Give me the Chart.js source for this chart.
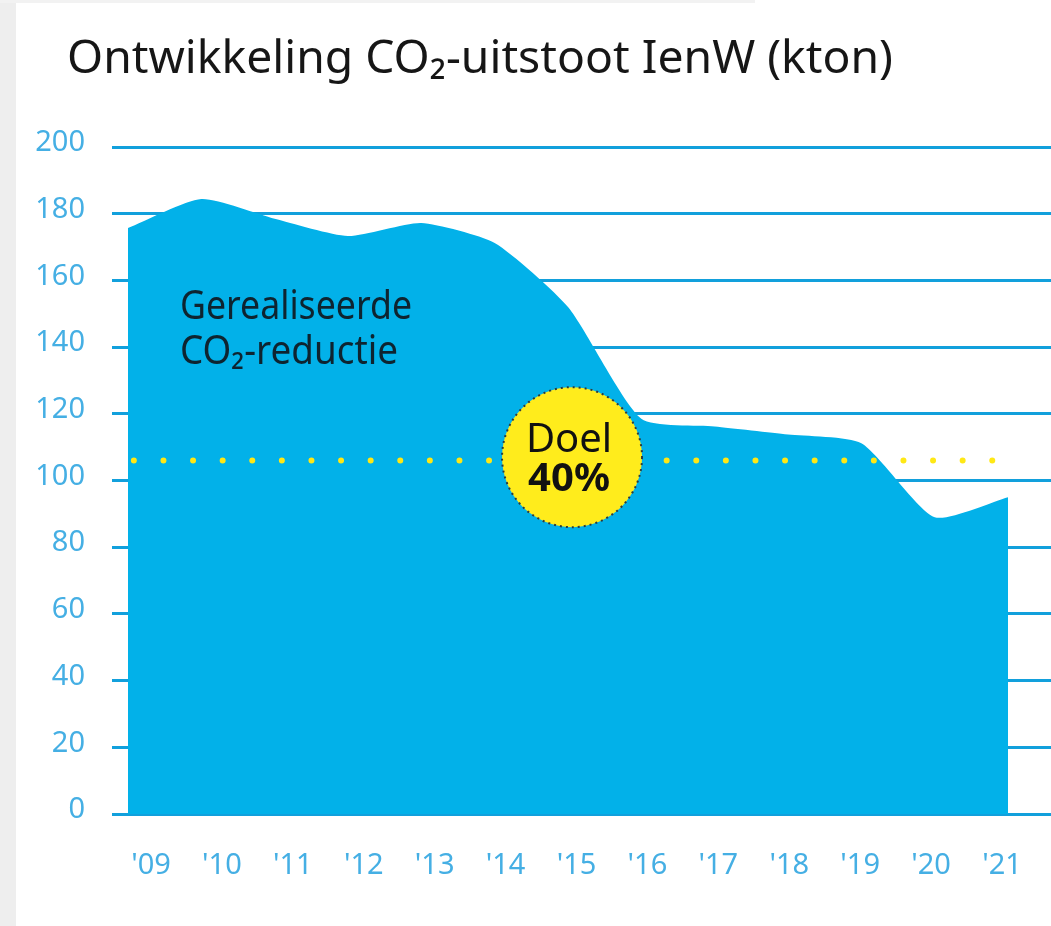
<!DOCTYPE html>
<html lang="nl">
<head>
<meta charset="utf-8">
<title>Ontwikkeling CO₂-uitstoot IenW (kton)</title>
<script src="https://cdn.jsdelivr.net/npm/chart.js@4.4.1/dist/chart.umd.min.js"></script>
<style>
  html, body { margin: 0; padding: 0; }
  body {
    width: 1051px; height: 926px; overflow: hidden; position: relative;
    background: linear-gradient(to right, #eeeeee 16px, #ffffff 16px);
  }
  body::before {
    content: ''; position: absolute; left: 0; top: 0; width: 755px; height: 3px; background: #f2f2f2;
  }
  canvas { display: block; position: relative; }
</style>
</head>
<body>
<canvas id="co2Chart" width="1051" height="926"></canvas>
<script>
// CO2-uitstoot IenW per jaar (kton)
const years      = [2009, 2010, 2011, 2012, 2013, 2014, 2015, 2016, 2017, 2018, 2019, 2020, 2021];
const tickLabels = ["'09", "'10", "'11", "'12", "'13", "'14", "'15", "'16", "'17", "'18", "'19", "'20", "'21"];
const uitstoot   = [175.7, 184.4, 178.5, 173.3, 177.2, 171.2, 152, 118.5, 116.2, 113.8, 111.2, 89, 95];
const yTicks     = [0, 20, 40, 60, 80, 100, 120, 140, 160, 180, 200];

// doel: 40% reductie
const doelWaarde = 106;
const doelVan    = 2009.08;
const doelTot    = 2021.01;
const doelBol    = { jaar: 2015.055, waarde: 107 };

const BLUE  = '#02b1e9';
const GRID  = '#12a0dc';
const TICK  = '#45afe4';
const FONT  = '"Noto Sans", "Open Sans", sans-serif';

// draw text squeezed to a given width (the original uses a narrow font)
function fitText(ctx, text, x, y, width) {
  const w = ctx.measureText(text).width;
  ctx.save();
  ctx.translate(x, y);
  ctx.scale(width / w, 1);
  ctx.fillText(text, 0, 0);
  ctx.restore();
}

const annotaties = {
  id: 'annotaties',
  afterDatasetsDraw(chart) {
    const { ctx, scales: { x, y } } = chart;
    ctx.save();

    // label in the area
    ctx.fillStyle = '#0e2430';
    ctx.textBaseline = 'alphabetic';
    ctx.textAlign = 'left';
    ctx.font = '40px ' + FONT;
    fitText(ctx, 'Gerealiseerde', 180, 319, 232);
    fitText(ctx, 'CO₂-reductie', 180, 364, 218);

    // yellow "Doel 40%" bubble
    const cx = x.getPixelForValue(doelBol.jaar);
    const cy = y.getPixelForValue(doelBol.waarde);
    ctx.beginPath();
    ctx.arc(cx, cy, 70, 0, Math.PI * 2);
    ctx.fillStyle = '#ffec1c';
    ctx.fill();
    ctx.setLineDash([2, 4]);
    ctx.lineWidth = 2;
    ctx.strokeStyle = '#2d3b3e';
    ctx.stroke();
    ctx.setLineDash([]);

    ctx.fillStyle = '#111111';
    ctx.textAlign = 'center';
    ctx.textBaseline = 'middle';
    ctx.font = '40px ' + FONT;
    ctx.fillText('Doel', cx - 3, cy - 17);
    ctx.font = 'bold 40px ' + FONT;
    ctx.fillText('40%', cx - 3, cy + 22);
    ctx.restore();
  },
  afterDraw(chart) {
    const { ctx } = chart;
    ctx.save();
    ctx.fillStyle = '#161616';
    ctx.textAlign = 'left';
    ctx.textBaseline = 'alphabetic';
    ctx.font = '46px ' + FONT;
    fitText(ctx, 'Ontwikkeling CO₂-uitstoot IenW (kton)', 67, 73, 826);
    ctx.restore();
  }
};

new Chart(document.getElementById('co2Chart'), {
  type: 'line',
  data: {
    datasets: [
      {
        label: 'Doel',
        data: [{ x: doelVan, y: doelWaarde }, { x: doelTot, y: doelWaarde }],
        borderColor: '#ffe815',
        borderWidth: 6,
        borderDash: [0, 29.6],
        borderCapStyle: 'round',
        pointRadius: 0,
        fill: false,
        order: 0
      },
      {
        label: 'CO₂-uitstoot',
        data: years.map((j, i) => ({ x: j, y: uitstoot[i] })),
        backgroundColor: BLUE,
        borderWidth: 0,
        pointRadius: 0,
        fill: 'origin',
        tension: 0.2,
        order: 1
      }
    ]
  },
  options: {
    responsive: false,
    animation: false,
    layout: { padding: { top: 147, left: 0, right: 0, bottom: 0 } },
    plugins: { legend: { display: false }, tooltip: { enabled: false } },
    scales: {
      x: {
        type: 'linear', display: false,
        min: 2008.782, max: 2021.586
      },
      xt: {
        type: 'linear', position: 'bottom',
        min: 2008.45, max: 2021.691,
        afterBuildTicks: axis => { axis.ticks = years.map(v => ({ value: v })); },
        afterFit: axis => { axis.height = 112; },
        grid: { display: false },
        border: { display: false },
        ticks: {
          color: TICK, padding: 26, maxRotation: 0, autoSkip: false,
          font: { family: FONT, size: 29 },
          callback: (v, i) => tickLabels[i]
        }
      },
      y: {
        min: 0, max: 200,
        afterBuildTicks: axis => { axis.ticks = yTicks.map(v => ({ value: v })); },
        afterFit: axis => { axis.width = 112; },
        grid: { color: GRID, lineWidth: 3, drawTicks: false },
        border: { display: false },
        ticks: {
          color: TICK, padding: 27, labelOffset: -4,
          font: { family: FONT, size: 29 }
        }
      }
    }
  },
  plugins: [annotaties]
});
</script>
</body>
</html>
